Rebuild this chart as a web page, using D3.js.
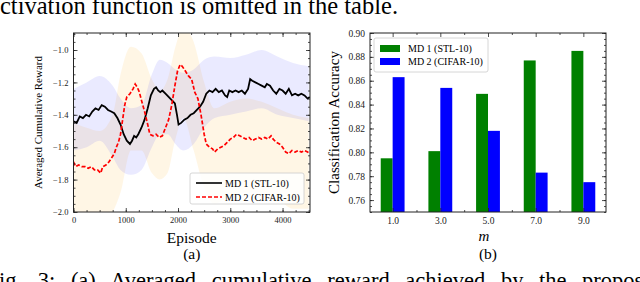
<!DOCTYPE html>
<html>
<head>
<meta charset="utf-8">
<script src="https://cdn.jsdelivr.net/npm/d3@7"></script>
<style>
  body { margin: 0; background: #fff; }
  svg { display: block; }
  svg text { font-family: "Liberation Serif", "Times New Roman", "DejaVu Serif", serif; }
</style>
</head>
<body>
<div id="fig"></div>
<script>
// (a) reward curves
const md1Episode = [0, 60, 120, 180, 240, 300, 360, 420, 480, 540, 600, 660, 720, 780, 840, 900, 960, 1020, 1080, 1120, 1160, 1200, 1240, 1300, 1360, 1420, 1480, 1540, 1580, 1620, 1660, 1700, 1760, 1820, 1880, 1940, 1980, 2010, 2060, 2120, 2180, 2240, 2300, 2360, 2420, 2480, 2540, 2600, 2660, 2720, 2780, 2840, 2900, 2940, 2980, 3040, 3100, 3160, 3220, 3280, 3340, 3380, 3420, 3480, 3540, 3600, 3660, 3700, 3760, 3820, 3880, 3940, 4000, 4060, 4120, 4180, 4240, 4300, 4360, 4420, 4480, 4520];
const md1Reward = [-1.44, -1.45, -1.41, -1.42, -1.40, -1.41, -1.38, -1.36, -1.37, -1.34, -1.35, -1.37, -1.38, -1.39, -1.42, -1.46, -1.52, -1.56, -1.58, -1.56, -1.53, -1.54, -1.52, -1.48, -1.43, -1.36, -1.28, -1.24, -1.23, -1.25, -1.26, -1.25, -1.27, -1.29, -1.31, -1.33, -1.40, -1.46, -1.45, -1.43, -1.42, -1.40, -1.39, -1.37, -1.35, -1.32, -1.27, -1.25, -1.26, -1.24, -1.26, -1.25, -1.28, -1.29, -1.25, -1.26, -1.25, -1.26, -1.25, -1.27, -1.24, -1.18, -1.19, -1.20, -1.21, -1.22, -1.23, -1.21, -1.22, -1.25, -1.27, -1.24, -1.25, -1.27, -1.24, -1.28, -1.27, -1.28, -1.27, -1.28, -1.30, -1.29];

const md2Episode = [0, 40, 100, 160, 220, 280, 340, 400, 460, 520, 560, 620, 680, 720, 780, 820, 860, 900, 940, 980, 1020, 1080, 1140, 1180, 1220, 1260, 1300, 1360, 1420, 1460, 1520, 1580, 1640, 1700, 1760, 1820, 1880, 1940, 1990, 2040, 2080, 2140, 2200, 2260, 2320, 2380, 2440, 2500, 2540, 2600, 2660, 2700, 2760, 2820, 2880, 2940, 3000, 3060, 3120, 3180, 3240, 3300, 3360, 3420, 3480, 3540, 3600, 3660, 3720, 3780, 3820, 3880, 3940, 4000, 4060, 4120, 4180, 4240, 4300, 4360, 4420, 4480, 4520];
const md2Reward = [-1.69, -1.72, -1.71, -1.72, -1.72, -1.73, -1.72, -1.74, -1.74, -1.76, -1.72, -1.71, -1.69, -1.67, -1.64, -1.60, -1.57, -1.52, -1.43, -1.34, -1.29, -1.27, -1.24, -1.21, -1.23, -1.26, -1.31, -1.38, -1.46, -1.52, -1.53, -1.52, -1.54, -1.53, -1.48, -1.43, -1.34, -1.22, -1.13, -1.09, -1.10, -1.13, -1.16, -1.18, -1.26, -1.30, -1.40, -1.52, -1.58, -1.60, -1.61, -1.63, -1.61, -1.60, -1.59, -1.57, -1.55, -1.54, -1.52, -1.53, -1.54, -1.55, -1.54, -1.56, -1.55, -1.54, -1.55, -1.54, -1.55, -1.53, -1.55, -1.57, -1.58, -1.60, -1.63, -1.64, -1.62, -1.63, -1.62, -1.63, -1.62, -1.63, -1.64];

// shaded spread around each curve
const bandEpisode = [0, 250, 500, 750, 900, 1100, 1300, 1500, 1650, 1800, 1950, 2100, 2300, 2500, 2700, 3000, 3300, 3600, 3900, 4200, 4500];
const md1Upper = [-1.24, -1.20, -1.16, -1.22, -1.30, -1.36, -1.34, -1.15, -1.06, -1.08, -1.12, -1.14, -1.12, -1.06, -1.04, -1.05, -1.03, -1.00, -1.04, -1.08, -1.10];
const md1Lower = [-1.62, -1.60, -1.56, -1.66, -1.74, -1.77, -1.74, -1.60, -1.52, -1.52, -1.58, -1.62, -1.58, -1.48, -1.42, -1.40, -1.38, -1.36, -1.40, -1.42, -1.44];
const md2Upper = [-1.45, -1.48, -1.50, -1.40, -1.15, -0.98, -1.02, -1.18, -1.25, -1.18, -0.98, -0.86, -0.95, -1.20, -1.36, -1.32, -1.30, -1.32, -1.36, -1.40, -1.42];
const md2Lower = [-2.05, -2.05, -2.08, -2.00, -1.88, -1.62, -1.62, -1.76, -1.80, -1.76, -1.55, -1.42, -1.62, -1.85, -1.95, -1.90, -1.88, -1.88, -1.92, -1.98, -1.98];

// (b) accuracy bars
const mValues = [1, 3, 5, 7, 9];
const md1Accuracy = [0.795, 0.801, 0.849, 0.877, 0.885];
const md2Accuracy = [0.863, 0.854, 0.818, 0.783, 0.775];

const seriesNames = ["MD 1 (STL-10)", "MD 2 (CIFAR-10)"];

// page text above and below the figure (cut by the picture edges)
const topText = "ctivation function is omitted in the table.";
const bottomText = "ig. 3: (a) Averaged cumulative reward achieved by the propos";

const W = 640, H = 282;
const svg = d3.select("#fig").append("svg")
    .attr("width", W)
    .attr("height", H);

svg.append("text")
    .attr("x", 0).attr("y", 13.5)
    .attr("font-size", 24.5)
    .text(topText);

// justified caption line: wide word gaps
svg.append("text")
    .attr("x", -1).attr("y", 288)
    .attr("font-size", 22.5)
    .attr("word-spacing", 10)
    .text(bottomText);

// draw a frame with inward ticks on all four sides
function frame(g, x, y, o) {
    let w = x.range()[1] - x.range()[0];
    let h = y.range()[0] - y.range()[1];

    let minorX = g.append("g").attr("transform", `translate(0, ${h})`)
        .call(d3.axisBottom(x).tickValues(o.xMinor).tickSize(-2).tickFormat(""));
    let minorXt = g.append("g")
        .call(d3.axisTop(x).tickValues(o.xMinor).tickSize(-2).tickFormat(""));
    let minorY = g.append("g")
        .call(d3.axisLeft(y).tickValues(o.yMinor).tickSize(-2).tickFormat(""));
    let minorYr = g.append("g").attr("transform", `translate(${w}, 0)`)
        .call(d3.axisRight(y).tickValues(o.yMinor).tickSize(-2).tickFormat(""));

    let xb = g.append("g").attr("transform", `translate(0, ${h})`)
        .call(d3.axisBottom(x).tickValues(o.xTicks).tickSize(-4).tickPadding(5).tickFormat(o.xFormat));
    let xt = g.append("g")
        .call(d3.axisTop(x).tickValues(o.xTicks).tickSize(-4).tickFormat(""));
    let yl = g.append("g")
        .call(d3.axisLeft(y).tickValues(o.yTicks).tickSize(-4).tickPadding(5).tickFormat(o.yFormat));
    let yr = g.append("g").attr("transform", `translate(${w}, 0)`)
        .call(d3.axisRight(y).tickValues(o.yTicks).tickSize(-4).tickFormat(""));

    [minorX, minorXt, minorY, minorYr, xb, xt, yl, yr].forEach(a => {
        a.attr("font-family", null);
        a.selectAll(".domain").remove();
        a.selectAll("line").attr("stroke", "#222").attr("stroke-width", 0.8);
        a.selectAll("text")
            .attr("font-size", o.tickFont)
            .attr("fill", "#222");
    });

    g.append("rect")
        .attr("width", w).attr("height", h)
        .attr("fill", "none")
        .attr("stroke", "#222")
        .attr("stroke-width", 1);
}

// ---------- (a) ----------
let a = {left: 73.5, top: 33, width: 236.5, height: 179};
let ga = svg.append("g").attr("transform", `translate(${a.left}, ${a.top})`);

let xA = d3.scaleLinear().domain([0, 4525]).range([0, a.width]);
let yA = d3.scaleLinear().domain([-2.0, -0.895]).range([a.height, 0]);

ga.append("clipPath").attr("id", "clipA")
    .append("rect").attr("width", a.width).attr("height", a.height);

let plotA = ga.append("g").attr("clip-path", "url(#clipA)");

let area = d3.area()
    .x(i => xA(bandEpisode[i]))
    .curve(d3.curveMonotoneX);

plotA.append("path")
    .datum(d3.range(bandEpisode.length))
    .attr("d", area.y0(i => yA(md2Lower[i])).y1(i => yA(md2Upper[i])))
    .attr("fill", "#ffa500")
    .attr("fill-opacity", 0.1);

plotA.append("path")
    .datum(d3.range(bandEpisode.length))
    .attr("d", area.y0(i => yA(md1Lower[i])).y1(i => yA(md1Upper[i])))
    .attr("fill", "#4444ff")
    .attr("fill-opacity", 0.11);

let lineA = d3.line().x(d => xA(d[0])).y(d => yA(d[1]));

plotA.append("path")
    .datum(d3.zip(md1Episode, md1Reward))
    .attr("d", lineA)
    .attr("fill", "none")
    .attr("stroke", "black")
    .attr("stroke-width", 1.8);

plotA.append("path")
    .datum(d3.zip(md2Episode, md2Reward))
    .attr("d", lineA)
    .attr("fill", "none")
    .attr("stroke", "#ff0000")
    .attr("stroke-width", 1.7)
    .attr("stroke-dasharray", "4,2");

frame(ga, xA, yA, {
    xTicks: [0, 1000, 2000, 3000, 4000],
    xMinor: d3.range(0, 4525, 250),
    yTicks: [-2.0, -1.8, -1.6, -1.4, -1.2, -1.0],
    yMinor: d3.range(-2.0, -0.89, 0.05),
    xFormat: d3.format("d"),
    yFormat: d3.format(".1f"),
    tickFont: 8.5
});

// legend (a)
let legA = ga.append("g").attr("transform", `translate(${190 - a.left}, ${173 - a.top})`);
legA.append("rect")
    .attr("width", 114).attr("height", 31).attr("rx", 2)
    .attr("fill", "white").attr("fill-opacity", 0.85)
    .attr("stroke", "#ccc").attr("stroke-width", 0.8);
[{c: "black", dash: null}, {c: "#ff0000", dash: "4,2"}].forEach((s, i) => {
    legA.append("line")
        .attr("x1", 6).attr("x2", 32)
        .attr("y1", 10 + i * 14).attr("y2", 10 + i * 14)
        .attr("stroke", s.c).attr("stroke-width", 1.6)
        .attr("stroke-dasharray", s.dash);
    legA.append("text")
        .attr("x", 35).attr("y", 13.5 + i * 14)
        .attr("font-size", 10)
        .text(seriesNames[i]);
});

svg.append("text")
    .attr("x", a.left + a.width / 2).attr("y", 243)
    .attr("text-anchor", "middle").attr("font-size", 15.5)
    .text("Episode");
svg.append("text")
    .attr("x", a.left + a.width / 2).attr("y", 259)
    .attr("text-anchor", "middle").attr("font-size", 15.5)
    .text("(a)");
svg.append("text")
    .attr("transform", `translate(42, ${a.top + a.height / 2}) rotate(-90)`)
    .attr("text-anchor", "middle").attr("font-size", 11)
    .text("Averaged Cumulative Reward");

// ---------- (b) ----------
let b = {left: 370, top: 33, width: 236, height: 179};
let gb = svg.append("g").attr("transform", `translate(${b.left}, ${b.top})`);

let xB = d3.scaleLinear().domain([0.05, 9.95]).range([0, b.width]);
let yB = d3.scaleLinear().domain([0.75, 0.90]).range([b.height, 0]);
let barW = 0.5;

gb.selectAll(".bar1")
    .data(d3.zip(mValues, md1Accuracy))
    .enter().append("rect")
    .attr("class", "bar1")
    .attr("x", d => xB(d[0] - barW))
    .attr("width", xB(barW) - xB(0))
    .attr("y", d => yB(d[1]))
    .attr("height", d => yB(0.75) - yB(d[1]))
    .attr("fill", "#008000");

gb.selectAll(".bar2")
    .data(d3.zip(mValues, md2Accuracy))
    .enter().append("rect")
    .attr("class", "bar2")
    .attr("x", d => xB(d[0]))
    .attr("width", xB(barW) - xB(0))
    .attr("y", d => yB(d[1]))
    .attr("height", d => yB(0.75) - yB(d[1]))
    .attr("fill", "#0000ff");

frame(gb, xB, yB, {
    xTicks: mValues,
    xMinor: [2, 4, 6, 8],
    yTicks: [0.76, 0.78, 0.80, 0.82, 0.84, 0.86, 0.88, 0.90],
    yMinor: d3.range(0.75, 0.9001, 0.005),
    xFormat: d3.format(".1f"),
    yFormat: d3.format(".2f"),
    tickFont: 9.5
});

// legend (b)
let legB = gb.append("g").attr("transform", `translate(${374 - b.left}, ${38 - b.top})`);
legB.append("rect")
    .attr("width", 114).attr("height", 34).attr("rx", 2)
    .attr("fill", "white").attr("fill-opacity", 0.85)
    .attr("stroke", "#ccc").attr("stroke-width", 0.8);
["#008000", "#0000ff"].forEach((c, i) => {
    legB.append("rect")
        .attr("x", 6).attr("y", 7 + i * 13)
        .attr("width", 20).attr("height", 7)
        .attr("fill", c);
    legB.append("text")
        .attr("x", 34).attr("y", 14 + i * 13)
        .attr("font-size", 10)
        .text(seriesNames[i]);
});

svg.append("text")
    .attr("x", b.left + b.width / 2 - 4).attr("y", 241)
    .attr("text-anchor", "middle").attr("font-size", 15)
    .attr("font-style", "italic")
    .text("m");
svg.append("text")
    .attr("x", b.left + b.width / 2).attr("y", 259)
    .attr("text-anchor", "middle").attr("font-size", 15.5)
    .text("(b)");
svg.append("text")
    .attr("transform", `translate(339, ${b.top + b.height / 2}) rotate(-90)`)
    .attr("text-anchor", "middle").attr("font-size", 15)
    .text("Classification Accuracy");
</script>
</body>
</html>
